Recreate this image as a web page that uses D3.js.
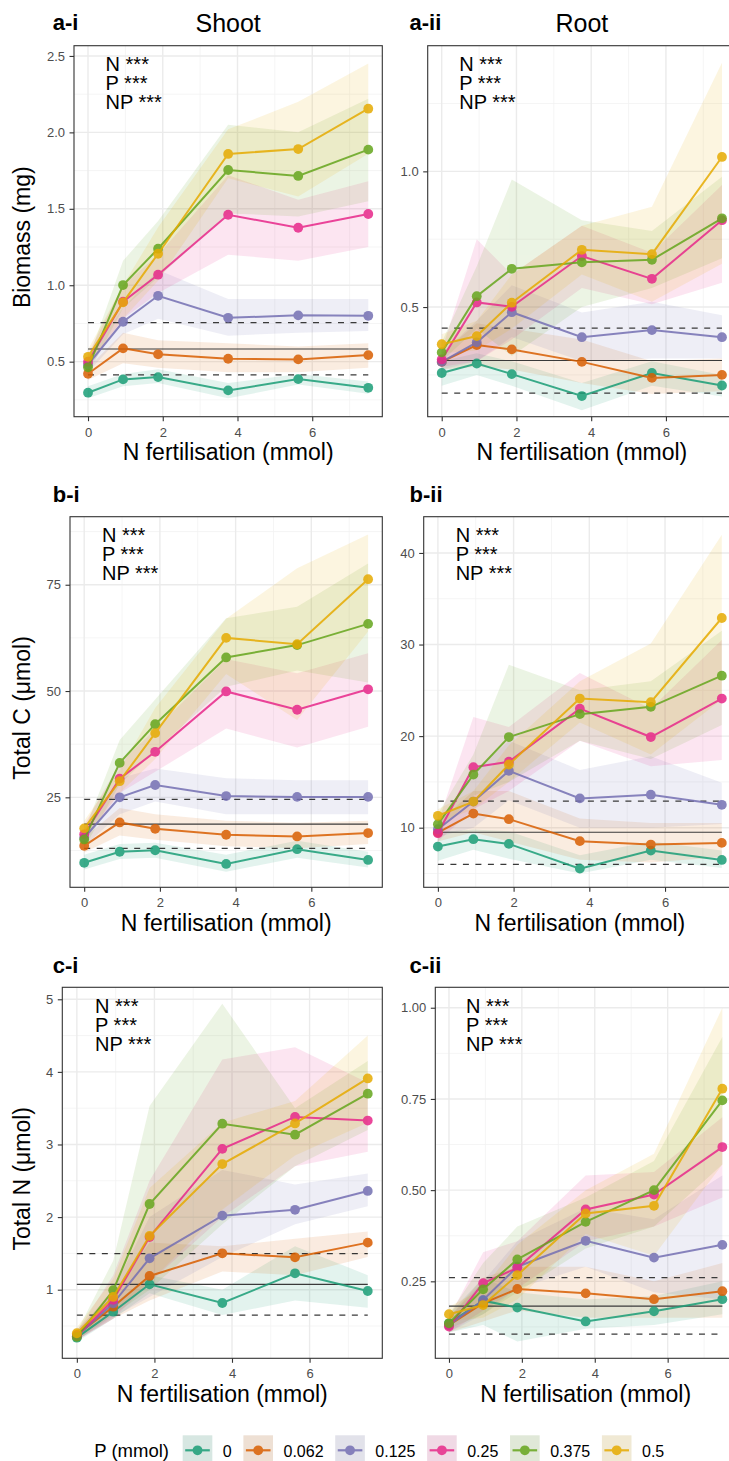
<!DOCTYPE html>
<html>
<head>
<meta charset="utf-8">
<script src="https://cdn.jsdelivr.net/npm/d3@7"></script>
<style>
  body { margin: 0; background: #fff; }
  svg { display: block; }
  text { font-family: "Liberation Sans", Arial, sans-serif; }
</style>
</head>
<body>
<svg id="chart" width="729" height="1461"></svg>
<script>
// N fertilisation levels (mmol) and P treatment levels (mmol)
const nLevels = [0, 0.9375, 1.875, 3.75, 5.625, 7.5];
const pLevels = ["0", "0.062", "0.125", "0.25", "0.375", "0.5"];
const pColors = ["#1B9E77", "#D95F02", "#7570B3", "#E7298A", "#66A61E", "#E6AB02"];
const xTicks = [0, 2, 4, 6];
const xMinor = [1, 3, 5, 7];

// Shoot biomass (mg): mean, lower and upper band, one row per P level
const shootMassMean = [
  [0.297, 0.384, 0.399, 0.312, 0.386, 0.329],
  [0.421, 0.587, 0.548, 0.519, 0.515, 0.543],
  [0.480, 0.761, 0.931, 0.787, 0.803, 0.800],
  [0.500, 0.892, 1.069, 1.461, 1.376, 1.466],
  [0.463, 1.001, 1.239, 1.754, 1.715, 1.887],
  [0.532, 0.888, 1.206, 1.859, 1.891, 2.155]
];
const shootMassLo = [
  [0.26, 0.34, 0.36, 0.26, 0.35, 0.29],
  [0.38, 0.49, 0.46, 0.43, 0.43, 0.46],
  [0.43, 0.68, 0.78, 0.67, 0.69, 0.70],
  [0.45, 0.78, 0.95, 1.20, 1.16, 1.25],
  [0.42, 0.85, 1.05, 1.47, 1.45, 1.55],
  [0.48, 0.78, 1.03, 1.70, 1.58, 1.86]
];
const shootMassHi = [
  [0.34, 0.42, 0.45, 0.36, 0.42, 0.37],
  [0.46, 0.69, 0.64, 0.62, 0.60, 0.62],
  [0.53, 0.85, 1.10, 0.91, 0.91, 0.91],
  [0.55, 1.00, 1.20, 1.72, 1.56, 1.68],
  [0.51, 1.16, 1.42, 2.05, 2.00, 2.22],
  [0.58, 1.00, 1.38, 2.02, 2.20, 2.45]
];
const shootMassRef = [0.583, 0.414, 0.755];   // control mean, lower, upper
const shootMassTicks = [0.5, 1.0, 1.5, 2.0, 2.5];
const shootMassLabels = ["0.5", "1.0", "1.5", "2.0", "2.5"];

// Root biomass (mg)
const rootMassMean = [
  [0.257, 0.292, 0.253, 0.172, 0.257, 0.211],
  [0.298, 0.360, 0.344, 0.298, 0.239, 0.250],
  [0.298, 0.370, 0.481, 0.389, 0.415, 0.389],
  [0.307, 0.517, 0.501, 0.688, 0.604, 0.820],
  [0.333, 0.540, 0.641, 0.665, 0.674, 0.827],
  [0.363, 0.393, 0.516, 0.711, 0.695, 1.053]
];
const rootMassLo = [
  [0.21, 0.25, 0.21, 0.12, 0.21, 0.17],
  [0.27, 0.28, 0.27, 0.22, 0.18, 0.19],
  [0.27, 0.30, 0.39, 0.30, 0.31, 0.31],
  [0.28, 0.30, 0.38, 0.57, 0.51, 0.59],
  [0.30, 0.42, 0.32, 0.50, 0.57, 0.68],
  [0.33, 0.34, 0.42, 0.62, 0.52, 0.66]
];
const rootMassHi = [
  [0.30, 0.33, 0.30, 0.22, 0.30, 0.25],
  [0.33, 0.44, 0.42, 0.38, 0.30, 0.31],
  [0.33, 0.45, 0.58, 0.48, 0.52, 0.47],
  [0.34, 0.75, 0.62, 0.80, 0.70, 0.95],
  [0.37, 0.65, 0.97, 0.82, 0.78, 0.98],
  [0.40, 0.45, 0.62, 0.80, 0.87, 1.40]
];
const rootMassRef = [0.303, 0.183, 0.422];
const rootMassTicks = [0.5, 1.0];
const rootMassLabels = ["0.5", "1.0"];

// Shoot total C (µmol)
const shootCMean = [
  [9.6, 12.2, 12.55, 9.33, 12.8, 10.27],
  [13.6, 19.1, 17.6, 16.2, 15.8, 16.6],
  [15.5, 25.0, 27.9, 25.3, 25.1, 25.1],
  [16.3, 29.4, 35.7, 49.9, 45.6, 50.4],
  [15.1, 33.1, 42.2, 57.9, 60.8, 65.8],
  [17.7, 28.8, 40.1, 62.5, 61.0, 76.3]
];
const shootCLo = [
  [8.0, 10.5, 10.8, 7.5, 10.8, 8.5],
  [12.0, 16.0, 15.0, 13.5, 13.0, 14.0],
  [13.5, 21.0, 24.0, 21.0, 21.0, 21.0],
  [14.5, 26.0, 31.0, 41.2, 36.7, 41.6],
  [13.0, 28.0, 36.0, 51.0, 54.8, 52.0],
  [15.5, 26.0, 34.0, 54.0, 43.2, 64.0]
];
const shootCHi = [
  [11.5, 14.0, 14.3, 11.5, 14.8, 12.2],
  [15.5, 22.5, 21.0, 19.5, 19.0, 19.5],
  [17.5, 29.5, 31.8, 29.5, 29.0, 29.0],
  [18.5, 33.0, 41.0, 57.5, 54.2, 58.9],
  [17.0, 38.5, 48.0, 67.1, 69.8, 80.0],
  [19.5, 31.5, 46.0, 67.0, 78.9, 86.8]
];
const shootCRef = [18.7, 13.0, 24.5];
const shootCTicks = [25, 50, 75];
const shootCLabels = ["25", "50", "75"];

// Root total C (µmol)
const rootCMean = [
  [7.94, 8.74, 8.23, 5.53, 7.5, 6.48],
  [9.47, 11.54, 10.93, 8.53, 8.16, 8.34],
  [9.83, 12.85, 16.2, 13.2, 13.6, 12.5],
  [9.4, 16.6, 17.2, 23.0, 19.9, 24.1],
  [10.38, 15.8, 19.9, 22.4, 23.2, 26.6],
  [11.3, 12.85, 16.9, 24.1, 23.7, 32.9]
];
const rootCLo = [
  [6.4, 7.6, 6.6, 5.0, 6.5, 5.6],
  [8.5, 9.5, 8.5, 6.5, 6.2, 6.8],
  [9.0, 10.0, 13.0, 10.0, 10.0, 10.4],
  [8.5, 12.0, 14.0, 19.5, 16.7, 17.4],
  [9.5, 13.5, 15.0, 19.5, 17.5, 21.2],
  [10.5, 12.0, 15.0, 21.5, 18.0, 24.0]
];
const rootCHi = [
  [9.5, 9.8, 9.6, 7.0, 8.5, 7.5],
  [10.5, 14.0, 14.0, 11.0, 10.5, 10.5],
  [10.5, 16.0, 19.5, 16.3, 17.8, 14.9],
  [10.5, 22.1, 21.0, 26.9, 23.0, 30.5],
  [11.5, 18.0, 27.8, 25.0, 26.0, 31.5],
  [12.0, 14.0, 19.0, 26.0, 30.1, 42.0]
];
const rootCRef = [9.5, 6.0, 12.9];
const rootCTicks = [10, 20, 30, 40];
const rootCLabels = ["10", "20", "30", "40"];

// Shoot total N (µmol)
const shootNMean = [
  [0.339, 0.697, 1.074, 0.817, 1.226, 0.982],
  [0.376, 0.766, 1.189, 1.501, 1.446, 1.648],
  [0.360, 0.813, 1.432, 2.020, 2.100, 2.360],
  [0.360, 0.860, 1.726, 2.940, 3.380, 3.330],
  [0.350, 0.992, 2.180, 3.286, 3.135, 3.700],
  [0.400, 0.900, 1.740, 2.730, 3.290, 3.910]
];
const shootNLo = [
  [0.28, 0.60, 0.95, 0.65, 0.85, 0.75],
  [0.31, 0.60, 0.85, 1.25, 1.20, 1.45],
  [0.30, 0.62, 0.90, 1.45, 1.90, 2.15],
  [0.30, 0.60, 1.10, 2.00, 2.70, 2.90],
  [0.30, 0.65, 1.00, 1.90, 2.70, 3.20],
  [0.33, 0.70, 1.10, 2.10, 2.85, 3.30]
];
const shootNHi = [
  [0.42, 0.80, 1.20, 1.00, 1.60, 1.20],
  [0.45, 0.95, 1.65, 1.60, 1.70, 1.80],
  [0.42, 1.00, 2.00, 2.65, 2.45, 2.60],
  [0.42, 1.20, 2.50, 4.17, 4.34, 3.85],
  [0.42, 1.40, 3.53, 4.94, 3.50, 4.15],
  [0.48, 1.15, 2.40, 3.30, 3.60, 4.50]
];
const shootNRef = [1.074, 0.651, 1.496];
const shootNTicks = [1, 2, 3, 4, 5];
const shootNLabels = ["1", "2", "3", "4", "5"];

// Root total N (µmol)
const rootNMean = [
  [0.135, 0.197, 0.178, 0.140, 0.168, 0.201],
  [0.130, 0.190, 0.229, 0.217, 0.201, 0.223],
  [0.130, 0.199, 0.290, 0.361, 0.315, 0.350],
  [0.126, 0.245, 0.287, 0.447, 0.488, 0.618],
  [0.135, 0.228, 0.310, 0.413, 0.500, 0.746],
  [0.160, 0.185, 0.267, 0.436, 0.457, 0.778]
];
const rootNLo = [
  [0.11, 0.13, 0.085, 0.12, 0.13, 0.16],
  [0.11, 0.14, 0.17, 0.15, 0.15, 0.15],
  [0.11, 0.16, 0.23, 0.29, 0.22, 0.20],
  [0.11, 0.17, 0.23, 0.36, 0.40, 0.48],
  [0.12, 0.16, 0.22, 0.34, 0.40, 0.57],
  [0.14, 0.15, 0.20, 0.38, 0.32, 0.57]
];
const rootNHi = [
  [0.16, 0.26, 0.22, 0.20, 0.21, 0.25],
  [0.15, 0.26, 0.29, 0.29, 0.25, 0.30],
  [0.15, 0.25, 0.36, 0.45, 0.42, 0.54],
  [0.15, 0.33, 0.36, 0.54, 0.55, 0.70],
  [0.16, 0.30, 0.40, 0.48, 0.58, 0.92],
  [0.18, 0.23, 0.35, 0.50, 0.60, 1.00]
];
const rootNRef = [0.182, 0.105, 0.26];
const rootNTicks = [0.25, 0.50, 0.75, 1.00];
const rootNLabels = ["0.25", "0.50", "0.75", "1.00"];

const statLines = ["N ***", "P ***", "NP ***"];

// ---- panel layout ----
const rows = [
  { top: 45.7, bottom: 416.7, tagY: 30 },
  { top: 516.7, bottom: 887.3, tagY: 501.5 },
  { top: 987.3, bottom: 1358.3, tagY: 972.5 }
];
const cols = [
  { right: 382.3, tagX: 52.7 },
  { right: 736, tagX: 409.5 }
];

const panels = [
  { tag: "a-i", title: "Shoot", yTitle: "Biomass (mg)", row: 0, col: 0, left: 74,
    mean: shootMassMean, lo: shootMassLo, hi: shootMassHi, ref: shootMassRef,
    ticks: shootMassTicks, labels: shootMassLabels, domain: [0.14, 2.567] },
  { tag: "a-ii", title: "Root", row: 0, col: 1, left: 427.7,
    mean: rootMassMean, lo: rootMassLo, hi: rootMassHi, ref: rootMassRef,
    ticks: rootMassTicks, labels: rootMassLabels, domain: [0.096, 1.463] },
  { tag: "b-i", yTitle: "Total C (\u03bcmol)", row: 1, col: 0, left: 70,
    mean: shootCMean, lo: shootCLo, hi: shootCHi, ref: shootCRef,
    ticks: shootCTicks, labels: shootCLabels, domain: [3.84, 91.0] },
  { tag: "b-ii", row: 1, col: 1, left: 423.7,
    mean: rootCMean, lo: rootCLo, hi: rootCHi, ref: rootCRef,
    ticks: rootCTicks, labels: rootCLabels, domain: [3.49, 43.96] },
  { tag: "c-i", yTitle: "Total N (\u03bcmol)", row: 2, col: 0, left: 62.3,
    mean: shootNMean, lo: shootNLo, hi: shootNHi, ref: shootNRef,
    ticks: shootNTicks, labels: shootNLabels, domain: [0.055, 5.165] },
  { tag: "c-ii", row: 2, col: 1, left: 435.3,
    mean: rootNMean, lo: rootNLo, hi: rootNHi, ref: rootNRef,
    ticks: rootNTicks, labels: rootNLabels, domain: [0.039, 1.056] }
];

const svg = d3.select("#chart");
const BORDER = "#333333";

panels.forEach((p, pi) => {
  const r = rows[p.row], c = cols[p.col];
  const left = p.left, right = c.right, top = r.top, bottom = r.bottom;
  const x = d3.scaleLinear().domain([-0.375, 7.875]).range([left, right]);
  const y = d3.scaleLinear().domain(p.domain).range([bottom, top]);
  const g = svg.append("g");

  const clipId = "clip" + pi;
  svg.append("clipPath").attr("id", clipId)
    .append("rect").attr("x", left).attr("y", top)
    .attr("width", right - left).attr("height", bottom - top);
  const body = g.append("g").attr("clip-path", `url(#${clipId})`);

  // grid: minor then major
  const step = p.ticks[1] - p.ticks[0];
  const yMinor = [p.ticks[0] - step / 2].concat(p.ticks.map(t => t + step / 2))
    .filter(v => v > p.domain[0] && v < p.domain[1]);
  body.selectAll(".ymin").data(yMinor).join("line")
    .attr("x1", left).attr("x2", right).attr("y1", d => y(d)).attr("y2", d => y(d))
    .attr("stroke", "#f3f3f3").attr("stroke-width", 0.8);
  body.selectAll(".xmin").data(xMinor).join("line")
    .attr("y1", top).attr("y2", bottom).attr("x1", d => x(d)).attr("x2", d => x(d))
    .attr("stroke", "#f3f3f3").attr("stroke-width", 0.8);
  body.selectAll(".ymaj").data(p.ticks).join("line")
    .attr("x1", left).attr("x2", right).attr("y1", d => y(d)).attr("y2", d => y(d))
    .attr("stroke", "#ebebeb").attr("stroke-width", 1.4);
  body.selectAll(".xmaj").data(xTicks).join("line")
    .attr("y1", top).attr("y2", bottom).attr("x1", d => x(d)).attr("x2", d => x(d))
    .attr("stroke", "#ebebeb").attr("stroke-width", 1.4);

  // confidence bands
  const area = d3.area().x((d, i) => x(nLevels[i])).y0(d => y(d[0])).y1(d => y(d[1]));
  pLevels.forEach((lvl, k) => {
    const band = p.lo[k].map((v, i) => [v, p.hi[k][i]]);
    body.append("path").datum(band).attr("d", area)
      .attr("fill", pColors[k]).attr("fill-opacity", 0.12);
  });

  // control reference lines
  const refLine = (v, dashed) => body.append("line")
    .attr("x1", x(nLevels[0])).attr("x2", x(nLevels[nLevels.length - 1]))
    .attr("y1", y(v)).attr("y2", y(v))
    .attr("stroke", "#3a3a3a").attr("stroke-width", 1.2)
    .attr("stroke-dasharray", dashed ? "6,6.5" : null);
  refLine(p.ref[0], false);
  refLine(p.ref[1], true);
  refLine(p.ref[2], true);

  // mean lines and points
  const line = d3.line().x((d, i) => x(nLevels[i])).y(d => y(d));
  pLevels.forEach((lvl, k) => {
    const s = body.append("g").attr("opacity", 0.85);
    s.append("path").datum(p.mean[k]).attr("d", line)
      .attr("fill", "none").attr("stroke", pColors[k]).attr("stroke-width", 2);
    s.selectAll("circle").data(p.mean[k]).join("circle")
      .attr("cx", (d, i) => x(nLevels[i])).attr("cy", d => y(d)).attr("r", 4.9)
      .attr("fill", pColors[k]);
  });

  // significance annotation
  const ann = g.append("text").attr("font-size", 20).attr("fill", "#000");
  statLines.forEach((t, i) => {
    ann.append("tspan").attr("x", x(0.47)).attr("y", top + 25.3 + i * 19).text(t);
  });

  // panel border
  g.append("rect").attr("x", left).attr("y", top)
    .attr("width", right - left).attr("height", bottom - top)
    .attr("fill", "none").attr("stroke", BORDER).attr("stroke-width", 1.1);

  // y axis
  const yAxis = g.append("g").attr("transform", `translate(${left},0)`)
    .call(d3.axisLeft(y).tickValues(p.ticks).tickFormat((d, i) => p.labels[i])
      .tickSize(4.5).tickPadding(4.5));
  yAxis.select(".domain").remove();
  yAxis.selectAll(".tick line").attr("stroke", BORDER).attr("stroke-width", 1.1);
  yAxis.selectAll(".tick text").attr("font-size", 13).attr("fill", "#4d4d4d")
    .attr("font-family", "Liberation Sans, Arial, sans-serif");

  // x axis
  const xAxis = g.append("g").attr("transform", `translate(0,${bottom})`)
    .call(d3.axisBottom(x).tickValues(xTicks).tickFormat(d3.format("d"))
      .tickSize(4.5).tickPadding(6.3));
  xAxis.select(".domain").remove();
  xAxis.selectAll(".tick line").attr("stroke", BORDER).attr("stroke-width", 1.1);
  xAxis.selectAll(".tick text").attr("font-size", 13).attr("fill", "#4d4d4d")
    .attr("font-family", "Liberation Sans, Arial, sans-serif");

  // x axis title
  g.append("text").attr("x", (left + right) / 2).attr("y", bottom + 43.5)
    .attr("text-anchor", "middle").attr("font-size", 23).text("N fertilisation (mmol)");

  // y axis title
  if (p.yTitle) {
    const cy = (top + bottom) / 2 + 6;
    g.append("text").attr("transform", `translate(29.5,${cy}) rotate(-90)`)
      .attr("text-anchor", "middle").attr("font-size", 23).text(p.yTitle);
  }

  // tag and column title
  g.append("text").attr("x", c.tagX).attr("y", r.tagY)
    .attr("font-size", 22).attr("font-weight", "bold").text(p.tag);
  if (p.title) {
    g.append("text").attr("x", (left + right) / 2).attr("y", r.tagY + 1.5)
      .attr("text-anchor", "middle").attr("font-size", 25).text(p.title);
  }
});

// ---- legend ----
const legend = svg.append("g");
legend.append("text").attr("x", 94.3).attr("y", 1457.3)
  .attr("font-size", 18.5).text("P (mmol)");
let lx = 182.7;
const keySize = 29.6, keyTop = 1435.3;
pLevels.forEach((lvl, k) => {
  const kg = legend.append("g");
  kg.append("rect").attr("x", lx).attr("y", keyTop).attr("width", keySize).attr("height", keySize)
    .attr("fill", "#f2f2f2");
  kg.append("rect").attr("x", lx).attr("y", keyTop).attr("width", keySize).attr("height", keySize)
    .attr("fill", pColors[k]).attr("fill-opacity", 0.12);
  const cy = keyTop + 15;
  const mk = kg.append("g").attr("opacity", 0.85);
  mk.append("line").attr("x1", lx + 2.5).attr("x2", lx + keySize - 2.5)
    .attr("y1", cy).attr("y2", cy).attr("stroke", pColors[k]).attr("stroke-width", 2.2);
  mk.append("circle").attr("cx", lx + keySize / 2).attr("cy", cy).attr("r", 4.9)
    .attr("fill", pColors[k]);
  const t = kg.append("text").attr("x", lx + keySize + 10.5).attr("y", 1456.7)
    .attr("font-size", 16).text(lvl);
  lx = lx + keySize + 10.5 + t.node().getComputedTextLength() + 11.7;
});
</script>
</body>
</html>
